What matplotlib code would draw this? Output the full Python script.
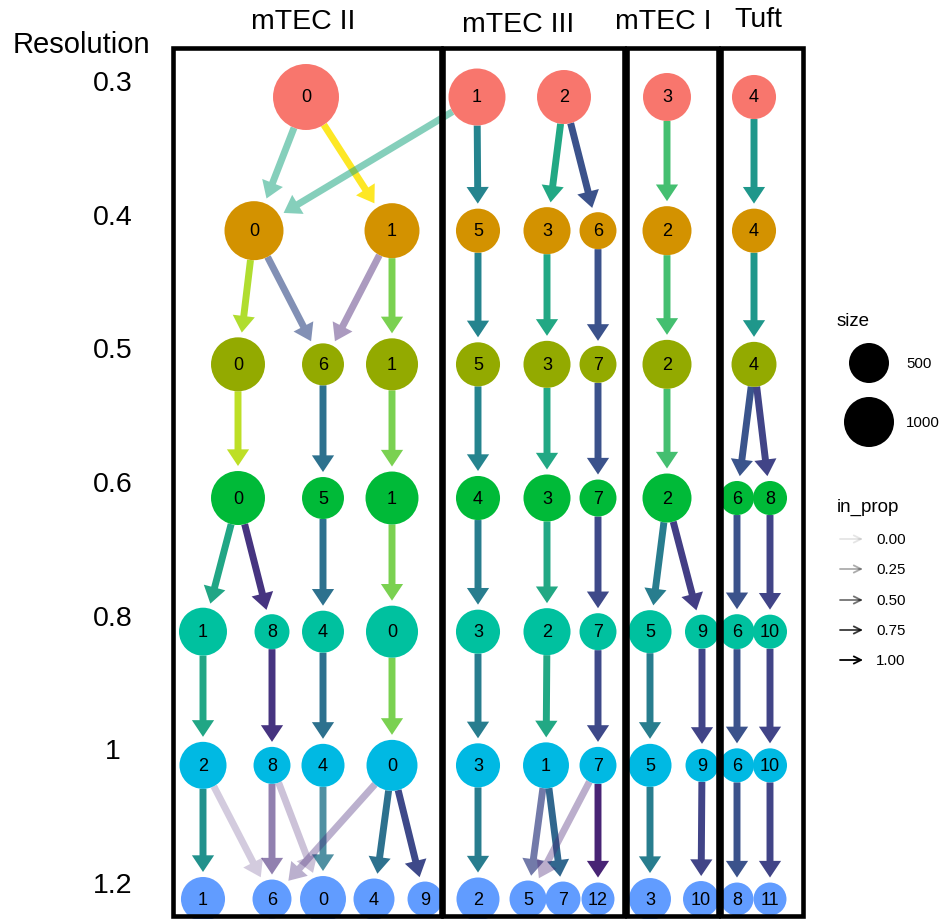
import numpy as np
import matplotlib
matplotlib.use("Agg")
import matplotlib.pyplot as plt
from matplotlib.patches import FancyArrowPatch, Rectangle, ArrowStyle
from matplotlib.colors import Normalize

plt.rcParams['font.family'] = ['Liberation Sans', 'DejaVu Sans']

# resolution levels (top to bottom) and the node colour of each level
resolutions = ["0.3", "0.4", "0.5", "0.6", "0.8", "1", "1.2"]
level_colors = ["#F8766D", "#D39200", "#93AA00", "#00BA38", "#00C19F", "#00B9E3", "#619CFF"]

# clusters per resolution and their sizes (cells)
clusters = [
    [0, 1, 2, 3, 4],
    [0, 1, 5, 3, 6, 2, 4],
    [0, 6, 1, 5, 3, 7, 2, 4],
    [0, 5, 1, 4, 3, 7, 2, 6, 8],
    [1, 8, 4, 0, 3, 2, 7, 5, 9, 6, 10],
    [2, 8, 4, 0, 3, 1, 7, 5, 9, 6, 10],
    [1, 6, 0, 4, 9, 2, 5, 7, 12, 3, 10, 8, 11],
]
cell_counts = [
    [2030, 1415, 1230, 890, 690],
    [1545, 1290, 690, 840, 370, 945, 690],
    [1230, 590, 1115, 690, 840, 370, 945, 735],
    [1230, 590, 1170, 690, 840, 370, 945, 255, 255],
    [890, 290, 590, 1115, 690, 840, 370, 640, 255, 290, 255],
    [840, 370, 640, 1055, 690, 785, 370, 640, 215, 255, 255],
    [690, 455, 785, 545, 290, 640, 370, 290, 215, 590, 330, 215, 215],
]

# tree layout (horizontal position of each node)
layout_x = [
    [306, 477, 564, 667, 754],
    [254, 392, 478, 547, 598, 667, 754],
    [238, 323, 392, 478, 547, 598, 667, 754],
    [238, 323, 392, 478, 547, 598, 667, 737, 770],
    [203, 272, 323, 392, 478, 547, 598, 650, 702, 737, 770],
    [203, 272, 323, 392, 478, 546, 598, 650, 702, 737, 770],
    [203, 272, 323, 374, 425, 478, 528, 563, 598, 650, 701, 737, 770],
]

# edges: source level, from cluster, to cluster, cell count, in_prop
edge_level = [0] * 8 + [1] * 9 + [2] * 9 + [3] * 11 + [4] * 11 + [5] * 17
edge_from = [0, 0, 1, 1, 2, 2, 3, 4,
             0, 0, 1, 1, 5, 3, 6, 2, 4,
             0, 6, 1, 5, 3, 7, 2, 4, 4,
             0, 0, 5, 1, 4, 3, 7, 2, 2, 6, 8,
             1, 8, 4, 0, 3, 2, 7, 5, 9, 6, 10,
             2, 2, 8, 8, 4, 0, 0, 0, 3, 1, 1, 7, 7, 5, 9, 6, 10]
edge_to = [0, 1, 0, 5, 3, 6, 2, 4,
           0, 6, 6, 1, 5, 3, 7, 2, 4,
           0, 5, 1, 4, 3, 7, 2, 6, 8,
           1, 8, 4, 0, 3, 2, 7, 5, 9, 6, 10,
           2, 8, 4, 0, 3, 1, 7, 5, 9, 6, 10,
           1, 6, 6, 0, 0, 6, 4, 9, 2, 5, 7, 5, 12, 3, 10, 8, 11]
edge_count = [600, 1000, 600, 450, 600, 250, 700, 530,
              880, 250, 100, 800, 450, 600, 250, 700, 530,
              900, 370, 800, 450, 600, 250, 700, 260, 200,
              590, 150, 370, 800, 420, 600, 220, 420, 180, 250, 200,
              590, 150, 370, 800, 420, 600, 220, 420, 200, 250, 200,
              500, 100, 120, 100, 400, 120, 370, 220, 420, 220, 330, 100, 100, 420, 200, 250, 200]
edge_in_prop = [0.5, 1, 0.5, 1, 1, 1, 1, 1,
                1, 0.6, 0.4, 1, 1, 1, 1, 1, 1,
                1, 1, 1, 1, 1, 1, 1, 1, 1,
                1, 1, 1, 1, 1, 1, 1, 1, 1, 1, 1,
                1, 1, 1, 1, 1, 1, 1, 1, 1, 1, 1,
                1, 0.15, 0.55, 0.2, 0.8, 0.3, 1, 1, 1, 0.7, 1, 0.3, 1, 1, 1, 1, 1]

groups = ["mTEC II", "mTEC III", "mTEC I", "Tuft"]

W, H = 945, 920
ROW0, ROWSTEP = 98, 133.67   # pixel row of first level and spacing


def diam_px(n):
    # size scale: area grows linearly with cell count
    return np.sqrt(700 + 1.8 * np.asarray(n, dtype=float))


fig = plt.figure(figsize=(W / 100, H / 100), dpi=100)
ax = fig.add_axes([0, 0, 1, 1])
ax.set_xlim(0, W)
ax.set_ylim((H - ROW0) / ROWSTEP, -ROW0 / ROWSTEP)
ax.axis('off')

# node lookup
pos = {}
for lv, (cl, xs, ns) in enumerate(zip(clusters, layout_x, cell_counts)):
    for c, x, n in zip(cl, xs, ns):
        pos[(lv, c)] = (x, lv, diam_px(n) / 2)

# edges
norm = Normalize(0, 1000)
cmap = plt.get_cmap('viridis')
style = ArrowStyle("simple", head_length=12, head_width=16, tail_width=5)
for lv, a, b, cnt, ip in zip(edge_level, edge_from, edge_to, edge_count, edge_in_prop):
    xa, ya, ra = pos[(lv, a)]
    xb, yb, rb = pos[(lv + 1, b)]
    arr = FancyArrowPatch((xa, ya), (xb, yb), arrowstyle=style,
                          shrinkA=ra * 0.72, shrinkB=(rb + 5) * 0.72,
                          color=cmap(norm(cnt)), alpha=0.1 + 0.9 * ip,
                          lw=0, zorder=2)
    ax.add_patch(arr)

# nodes
for lv, (cl, xs, ns) in enumerate(zip(clusters, layout_x, cell_counts)):
    d = diam_px(ns)
    ax.scatter(xs, [lv] * len(xs), s=(d * 0.72) ** 2, color=level_colors[lv],
               edgecolors='none', zorder=3)
    for c, x in zip(cl, xs):
        ax.text(x, lv, str(c), ha='center', va='center', fontsize=13, zorder=4)

# resolution labels
for lv, r in enumerate(resolutions):
    ax.text(113, lv - 0.105, r, ha='center', va='center', fontsize=20.5)

# overlay in pixel units: group boxes, titles, legend
ov = fig.add_axes([0, 0, 1, 1], zorder=5)
ov.set_xlim(0, W)
ov.set_ylim(H, 0)
ov.patch.set_alpha(0)
ov.axis('off')

box_x = [(172.5, 440.5), (443, 623.5), (626.5, 717.5), (720.5, 802.5)]
title_x = [303, 518, 663, 758]
title_y = [22, 25, 22, 20]
for (x0, x1), g, tx, ty in zip(box_x, groups, title_x, title_y):
    ov.add_patch(Rectangle((x0, 48.5), x1 - x0, 868, fill=False, lw=3.3,
                           edgecolor='black', zorder=10))
    ov.text(tx, ty, g, ha='center', va='center', fontsize=20.5)

ov.text(81, 45, "Resolution", ha='center', va='center', fontsize=21)

# size legend
ov.text(837, 322, "size", ha='left', va='center', fontsize=13.5)
for n, y in zip([500, 1000], [364, 423]):
    ov.scatter([869], [y], s=(diam_px(n) * 0.72) ** 2, color='black', edgecolors='none')
    ov.text(906, y, str(n), ha='left', va='center', fontsize=10.8)

# in_prop legend
ov.text(837, 507, "in_prop", ha='left', va='center', fontsize=13.5)
for p, y in zip([0.0, 0.25, 0.5, 0.75, 1.0], [540, 570, 601, 631, 661]):
    ov.annotate('', xy=(863, y), xytext=(840, y),
                arrowprops=dict(arrowstyle='->', color='black', alpha=0.1 + 0.9 * p,
                                lw=1.3, mutation_scale=13, shrinkA=0, shrinkB=0))
    ov.text(876, y, f"{p:.2f}", ha='left', va='center', fontsize=10.8)

fig.savefig("out.png", dpi=100)
